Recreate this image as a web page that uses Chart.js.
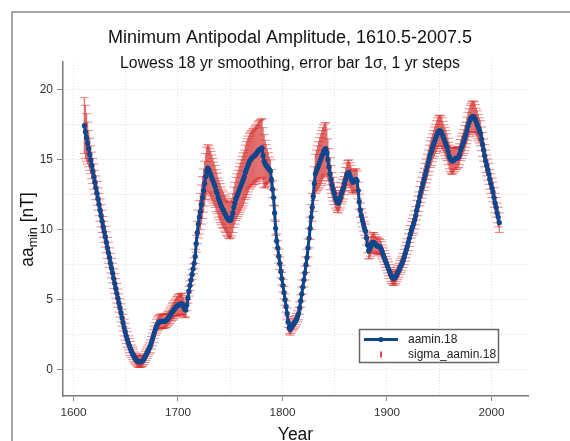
<!DOCTYPE html>
<html><head><meta charset="utf-8">
<script src="https://cdn.jsdelivr.net/npm/chart.js@4.4.0/dist/chart.umd.min.js"></script>
<style>html,body{margin:0;padding:0;background:#fff;}canvas{display:block;}</style>
</head><body>
<canvas id="c" width="570" height="441"></canvas>
<script>
// ---------- data ----------
const firstYear = 1610.5; // 1 yr steps
const seriesLabels = ['aamin.18', 'sigma_aamin.18'];
const aamin18 = [
 17.45,17.0,16.6,16.2,15.8,15.4,15.0,14.6,14.2,13.8,
 13.4,13.0,12.6,12.2,11.8,11.4,11.0,10.6,10.2,9.85,
 9.5,9.1,8.7,8.35,8.0,7.6,7.25,6.9,6.5,6.15,
 5.8,5.45,5.1,4.75,4.4,4.05,3.7,3.35,3.0,2.7,
 2.4,2.15,1.9,1.7,1.5,1.3,1.15,1.0,0.85,0.75,
 0.65,0.6,0.55,0.55,0.55,0.6,0.65,0.75,0.9,1.05,
 1.2,1.35,1.5,1.65,1.9,2.15,2.4,2.65,2.9,3.1,
 3.25,3.35,3.4,3.45,3.45,3.45,3.45,3.45,3.5,3.55,
 3.65,3.75,3.85,4.0,4.1,4.2,4.3,4.4,4.5,4.55,
 4.6,4.65,4.7,4.7,4.6,4.45,4.3,4.25,4.6,5.1,
 5.6,6.0,6.4,6.8,7.2,7.6,8.1,9.0,9.8,10.4,
 10.9,11.3,11.8,12.3,12.8,13.3,13.8,14.2,14.4,14.3,
 14.1,13.9,13.7,13.5,13.3,13.1,12.8,12.6,12.3,12.1,
 11.9,11.7,11.5,11.4,11.2,11.1,10.9,10.8,10.7,10.65,
 10.7,10.9,11.2,11.6,11.9,12.2,12.4,12.6,12.8,13.0,
 13.2,13.4,13.6,13.8,14.1,14.3,14.5,14.7,14.9,15.0,
 15.1,15.2,15.25,15.3,15.4,15.5,15.6,15.7,15.75,15.8,
 15.85,15.3,14.9,14.7,14.6,14.5,14.4,14.3,14.2,13.6,
 12.9,12.3,11.2,10.1,9.2,8.7,8.1,7.6,7.0,6.5,
 6.0,5.5,5.0,4.5,4.0,3.4,2.95,2.85,3.0,3.15,
 3.25,3.35,3.45,3.6,3.8,4.0,4.4,4.9,5.4,5.9,
 6.4,6.9,7.5,8.0,8.7,9.4,10.1,10.9,11.6,12.4,
 13.3,14.0,14.2,14.4,14.6,14.8,15.0,15.2,15.4,15.6,
 15.75,15.8,15.5,15.0,14.5,14.0,13.6,13.2,12.9,12.6,
 12.3,12.1,11.95,11.9,12.1,12.3,12.6,12.8,13.0,13.3,
 13.6,13.9,14.05,14.1,13.9,13.7,13.5,13.4,13.45,13.55,
 13.6,13.5,12.8,12.0,11.4,11.0,10.7,10.4,10.1,9.9,
 9.4,8.9,8.5,8.6,8.8,9.0,9.1,9.1,9.0,8.9,
 8.85,8.8,8.8,8.75,8.6,8.4,8.2,8.0,7.8,7.6,
 7.4,7.2,7.0,6.8,6.65,6.55,6.5,6.55,6.65,6.8,
 6.95,7.1,7.3,7.45,7.6,7.8,8.05,8.3,8.55,8.8,
 9.1,9.4,9.7,10.0,10.2,10.4,10.7,11.0,11.4,11.7,
 12.0,12.4,12.7,13.0,13.3,13.6,13.9,14.2,14.5,14.8,
 15.1,15.4,15.6,15.85,16.1,16.3,16.5,16.7,16.9,17.05,
 17.1,17.05,16.9,16.7,16.5,16.3,16.1,15.9,15.6,15.3,
 15.1,14.95,14.9,14.95,15.0,15.1,15.1,15.15,15.2,15.4,
 15.7,15.9,16.1,16.3,16.55,16.8,17.1,17.4,17.65,17.85,
 18.0,18.1,18.1,18.05,17.9,17.7,17.5,17.3,17.1,16.9,
 16.5,16.1,15.7,15.3,14.9,14.6,14.3,14.0,13.6,13.3,
 13.0,12.7,12.3,11.9,11.6,11.2,10.9,10.5
];
const sigmaAamin18 = [
 2.0,1.9,1.7,1.5,1.3,1.15,1.0,0.95,0.9,0.9,
 0.85,0.85,0.85,0.8,0.8,0.8,0.8,0.8,0.75,0.75,
 0.75,0.75,0.75,0.75,0.7,0.7,0.7,0.7,0.7,0.7,
 0.7,0.7,0.65,0.65,0.65,0.65,0.6,0.6,0.6,0.6,
 0.55,0.55,0.5,0.5,0.5,0.45,0.45,0.45,0.4,0.4,
 0.4,0.4,0.4,0.4,0.4,0.4,0.4,0.4,0.4,0.4,
 0.4,0.4,0.4,0.45,0.45,0.45,0.45,0.45,0.45,0.5,
 0.5,0.5,0.5,0.5,0.5,0.5,0.5,0.5,0.5,0.5,
 0.5,0.5,0.55,0.55,0.6,0.6,0.65,0.65,0.7,0.7,
 0.75,0.75,0.75,0.75,0.7,0.7,0.6,0.5,0.4,0.35,
 0.35,0.35,0.35,0.35,0.35,0.4,0.5,0.6,0.8,1.0,
 1.2,1.3,1.4,1.5,1.55,1.6,1.65,1.7,1.7,1.7,
 1.7,1.7,1.65,1.6,1.55,1.5,1.5,1.45,1.4,1.4,
 1.4,1.35,1.35,1.3,1.3,1.3,1.3,1.3,1.3,1.3,
 1.3,1.35,1.4,1.45,1.5,1.55,1.6,1.65,1.7,1.75,
 1.8,1.85,1.9,1.9,1.95,2.0,2.0,2.0,2.0,2.0,
 2.0,2.0,2.0,2.05,2.05,2.05,2.1,2.1,2.1,2.1,
 2.1,2.0,1.9,1.7,1.5,1.3,1.1,0.9,0.8,0.7,
 0.6,0.55,0.5,0.5,0.5,0.5,0.5,0.45,0.45,0.45,
 0.45,0.45,0.4,0.4,0.4,0.4,0.4,0.4,0.4,0.4,
 0.4,0.4,0.4,0.4,0.4,0.45,0.45,0.45,0.5,0.5,
 0.5,0.5,0.55,0.6,0.65,0.7,0.8,0.9,1.0,1.1,
 1.2,1.4,1.5,1.6,1.7,1.8,1.85,1.9,1.9,1.9,
 1.9,1.85,1.7,1.5,1.3,1.15,1.0,0.9,0.85,0.8,
 0.75,0.7,0.7,0.7,0.7,0.75,0.75,0.8,0.8,0.8,
 0.85,0.85,0.9,0.9,0.9,0.9,0.85,0.85,0.8,0.8,
 0.75,0.7,0.6,0.55,0.5,0.5,0.5,0.5,0.5,0.5,
 0.5,0.55,0.6,0.65,0.7,0.7,0.7,0.7,0.65,0.6,
 0.6,0.6,0.55,0.55,0.55,0.5,0.5,0.5,0.5,0.5,
 0.5,0.5,0.5,0.5,0.5,0.5,0.5,0.5,0.5,0.5,
 0.5,0.5,0.5,0.5,0.5,0.5,0.55,0.55,0.55,0.55,
 0.6,0.6,0.6,0.6,0.6,0.65,0.65,0.65,0.7,0.7,
 0.7,0.7,0.75,0.75,0.8,0.8,0.85,0.85,0.9,0.9,
 0.95,0.95,1.0,1.0,1.0,1.05,1.05,1.1,1.1,1.1,
 1.1,1.1,1.1,1.05,1.0,1.0,1.0,0.95,0.95,0.95,
 0.95,0.95,0.95,0.9,0.85,0.8,0.8,0.75,0.75,0.75,
 0.75,0.8,0.8,0.85,0.9,0.9,0.95,1.0,1.0,1.05,
 1.05,1.1,1.1,1.1,1.05,1.0,1.0,0.95,0.9,0.9,
 0.85,0.85,0.8,0.8,0.8,0.75,0.75,0.75,0.7,0.7,
 0.7,0.7,0.7,0.7,0.7,0.7,0.7,0.7
];
const years = aamin18.map((_, i) => firstYear + i);
const xTickLabels = [1600, 1700, 1800, 1900, 2000];
const yTickLabels = [0, 5, 10, 15, 20];

// ---------- styles ----------
const FONT = '"Liberation Sans", Arial, Helvetica, sans-serif';
const BLUE = '#10468c';
const RED = 'rgba(208,24,24,0.6)';
const RED_CAP = 'rgba(220,40,40,0.55)';

const framePlugin = {
  id: 'frame',
  beforeDraw(chart) {
    const ctx = chart.ctx;
    ctx.save();
    ctx.fillStyle = '#fff';
    ctx.fillRect(0, 0, chart.width, chart.height);
    ctx.strokeStyle = '#a6a6a6';
    ctx.lineWidth = 2;
    ctx.beginPath();
    ctx.moveTo(12, chart.height);
    ctx.lineTo(12, 12);
    ctx.lineTo(chart.width, 12);
    ctx.stroke();
    ctx.restore();
  }
};

const errorBarPlugin = {
  id: 'errorBars',
  beforeDatasetsDraw(chart) {
    const {ctx, chartArea, scales: {x, y}} = chart;
    ctx.save();
    ctx.beginPath();
    ctx.rect(chartArea.left, chartArea.top, chartArea.right - chartArea.left, chartArea.bottom - chartArea.top);
    ctx.clip();
    const cap = 4.5;
    for (let i = 0; i < years.length; i++) {
      const px = x.getPixelForValue(years[i]);
      const top = y.getPixelForValue(aamin18[i] + sigmaAamin18[i]);
      const bot = y.getPixelForValue(aamin18[i] - sigmaAamin18[i]);
      ctx.strokeStyle = RED;
      ctx.lineWidth = 1.3;
      ctx.beginPath();
      ctx.moveTo(px, top); ctx.lineTo(px, bot);
      ctx.stroke();
      ctx.strokeStyle = RED_CAP;
      ctx.lineWidth = 1;
      ctx.beginPath();
      ctx.moveTo(px - cap, top); ctx.lineTo(px + cap, top);
      ctx.moveTo(px - cap, bot); ctx.lineTo(px + cap, bot);
      ctx.stroke();
    }
    ctx.restore();
  }
};

const textPlugin = {
  id: 'texts',
  afterDraw(chart) {
    const ctx = chart.ctx;
    ctx.save();
    ctx.fillStyle = '#111';
    ctx.textAlign = 'center';
    ctx.textBaseline = 'alphabetic';
    ctx.font = '18px ' + FONT;
    ctx.fillText('Minimum Antipodal Amplitude, 1610.5-2007.5', 290, 42.5);
    ctx.font = '15.8px ' + FONT;
    ctx.fillText('Lowess 18 yr smoothing, error bar 1\u03c3, 1 yr steps', 290, 68);
    ctx.font = '17.5px ' + FONT;
    ctx.fillText('Year', 295.5, 440);

    // y-axis title with subscript
    ctx.save();
    ctx.translate(33, 229.5);
    ctx.rotate(-Math.PI / 2);
    ctx.textAlign = 'left';
    ctx.font = '17.5px ' + FONT;
    const wA = ctx.measureText('aa').width;
    const wB = ctx.measureText(' [nT]').width;
    ctx.font = '12.5px ' + FONT;
    const wS = ctx.measureText('min').width;
    let x0 = -(wA + wS + wB) / 2;
    ctx.font = '17.5px ' + FONT;
    ctx.fillText('aa', x0, 0);
    ctx.font = '12.5px ' + FONT;
    ctx.fillText('min', x0 + wA, 4);
    ctx.font = '17.5px ' + FONT;
    ctx.fillText(' [nT]', x0 + wA + wS, 0);
    ctx.restore();

    // legend
    ctx.fillStyle = '#fff';
    ctx.fillRect(359.5, 329.5, 139, 33);
    ctx.strokeStyle = '#666';
    ctx.lineWidth = 1.5;
    ctx.strokeRect(359.5, 329.5, 139, 33);
    ctx.strokeStyle = BLUE;
    ctx.lineWidth = 2.8;
    ctx.beginPath(); ctx.moveTo(364, 339.5); ctx.lineTo(398, 339.5); ctx.stroke();
    ctx.fillStyle = BLUE;
    ctx.beginPath(); ctx.arc(381, 339.5, 2.6, 0, Math.PI * 2); ctx.fill();
    ctx.fillStyle = 'rgba(225,40,40,0.85)';
    ctx.fillRect(380, 351.5, 2, 6);
    ctx.fillStyle = '#222';
    ctx.textAlign = 'left';
    ctx.textBaseline = 'middle';
    ctx.font = '12px ' + FONT;
    ctx.fillText(seriesLabels[0], 408, 339.5);
    ctx.fillText(seriesLabels[1], 408, 354.5);
    ctx.restore();
  }
};

new Chart(document.getElementById('c'), {
  type: 'line',
  data: {
    datasets: [{
      label: seriesLabels[0],
      data: years.map((yr, i) => ({x: yr, y: aamin18[i]})),
      borderColor: BLUE,
      backgroundColor: BLUE,
      borderWidth: 3,
      pointRadius: 2.6,
      pointBorderWidth: 0,
      pointBackgroundColor: BLUE,
      tension: 0,
      fill: false
    }]
  },
  options: {
    responsive: false,
    devicePixelRatio: 1,
    animation: false,
    layout: {padding: {top: 62, left: 0, right: 42, bottom: 0}},
    plugins: {legend: {display: false}, tooltip: {enabled: false}, title: {display: false}},
    scales: {
      x: {
        type: 'linear', position: 'bottom', min: 1590, max: 2035,
        afterFit(s) { s.height = 45; },
        ticks: {
          stepSize: 50, includeBounds: false, autoSkip: false, maxRotation: 0, padding: 5,
          color: '#333', font: {family: FONT, size: 11.7},
          callback: v => xTickLabels.includes(v) ? String(v) : ''
        },
        grid: {
          color: '#dedede', lineWidth: 1, tickLength: 5, tickWidth: 1,
          tickColor: c => (c.tick && xTickLabels.includes(c.tick.value)) ? '#888' : 'rgba(0,0,0,0)'
        },
        border: {color: '#7a7a7a', width: 1.5, dash: [1, 2]}
      },
      y: {
        type: 'linear', min: -1.9, max: 22,
        afterFit(s) { s.width = 63; },
        ticks: {
          stepSize: 2.5, includeBounds: false, autoSkip: false, padding: 4,
          color: '#333', font: {family: FONT, size: 12},
          callback: v => yTickLabels.includes(v) ? String(v) : ''
        },
        grid: {
          color: '#dedede', lineWidth: 1, tickLength: 6, tickWidth: 1,
          tickColor: c => (c.tick && yTickLabels.includes(c.tick.value)) ? '#888' : 'rgba(0,0,0,0)'
        },
        border: {color: '#7a7a7a', width: 1.5, dash: [1, 2]}
      }
    }
  },
  plugins: [framePlugin, errorBarPlugin, textPlugin]
});
</script>
</body></html>
